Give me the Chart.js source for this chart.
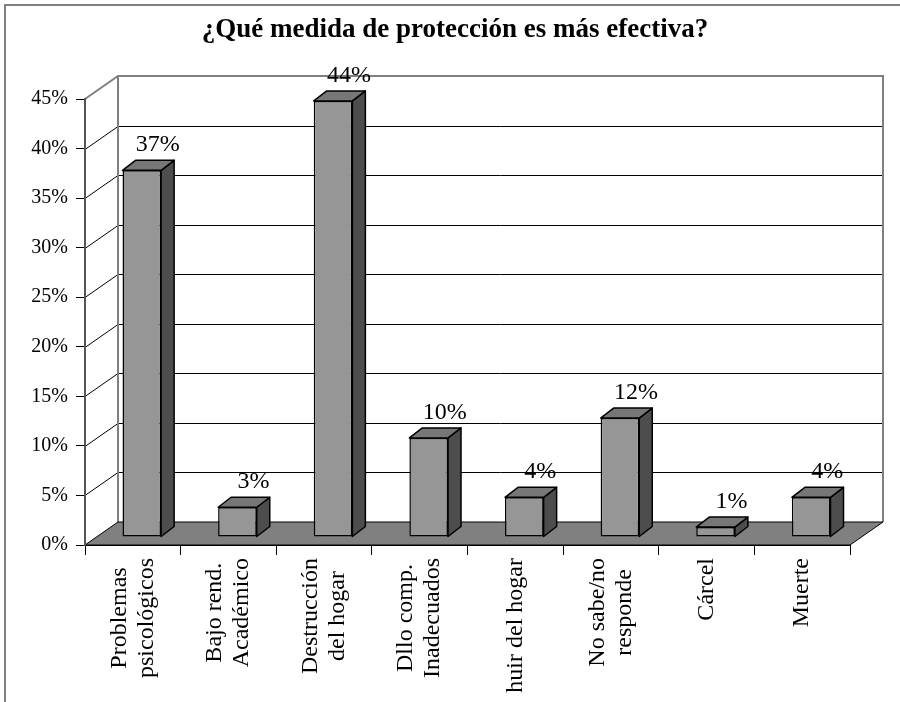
<!DOCTYPE html>
<html>
<head>
<meta charset="utf-8">
<script src="https://cdn.jsdelivr.net/npm/chart.js@4.4.1/dist/chart.umd.min.js"></script>
<style>
  html, body { margin: 0; padding: 0; background: #fff; }
  #wrap { width: 900px; height: 702px; }
</style>
</head>
<body>
<div id="wrap"><canvas id="chart" width="900" height="702"></canvas></div>
<script>
const titleText = "¿Qué medida de protección es más efectiva?";
const categories = [
  ["Problemas", "psicológicos"],
  ["Bajo rend.", "Académico"],
  ["Destrucción", "del hogar"],
  ["Dllo comp.", "Inadecuados"],
  ["huir del hogar"],
  ["No sabe/no", "responde"],
  ["Cárcel"],
  ["Muerte"]
];
const percentages = [37, 3, 44, 10, 4, 12, 1, 4];
const yMax = 45;
const yStep = 5;

// 3d look
const DEPTH = { x: 33, y: -23 };
const BAR_SHIFT = { x: 9, y: -8 };
const BAR_DEPTH = { x: 13, y: -10 };
const SERIF = "'Liberation Serif', 'Times New Roman', serif";

const box3d = {
  id: "box3d",
  beforeDraw(chart) {
    const ctx = chart.ctx;
    const a = chart.chartArea;
    const y = chart.scales.y;
    const top = y.getPixelForValue(yMax);
    const zero = y.getPixelForValue(0);
    const bx0 = a.left + DEPTH.x;
    const bx1 = a.right + DEPTH.x;
    ctx.save();

    // outer frame
    ctx.strokeStyle = "#808080";
    ctx.lineWidth = 2;
    ctx.beginPath();
    ctx.moveTo(5, 702);
    ctx.lineTo(5, 5);
    ctx.lineTo(900, 5);
    ctx.stroke();

    // gridlines: side wall + back wall
    ctx.strokeStyle = "#000";
    ctx.lineWidth = 1;
    for (let v = yStep; v < yMax; v += yStep) {
      const py = Math.round(y.getPixelForValue(v)) + 0.5;
      ctx.beginPath();
      ctx.moveTo(a.left, py);
      ctx.lineTo(bx0, py + DEPTH.y);
      ctx.lineTo(bx1, py + DEPTH.y);
      ctx.stroke();
    }

    // wall edges
    ctx.strokeStyle = "#808080";
    ctx.lineWidth = 2;
    ctx.beginPath();
    ctx.moveTo(a.left, top);
    ctx.lineTo(bx0, top + DEPTH.y);
    ctx.lineTo(bx1, top + DEPTH.y);
    ctx.lineTo(bx1, zero + DEPTH.y);
    ctx.moveTo(bx0, top + DEPTH.y);
    ctx.lineTo(bx0, zero + DEPTH.y);
    ctx.stroke();

    // floor
    ctx.fillStyle = "#808080";
    ctx.strokeStyle = "#000";
    ctx.lineWidth = 1;
    ctx.beginPath();
    ctx.moveTo(a.left, zero);
    ctx.lineTo(a.right, zero);
    ctx.lineTo(bx1, zero + DEPTH.y);
    ctx.lineTo(bx0, zero + DEPTH.y);
    ctx.closePath();
    ctx.fill();
    ctx.stroke();
    ctx.restore();
  },
  beforeDatasetsDraw(chart) {
    chart.ctx.save();
    chart.ctx.translate(BAR_SHIFT.x, BAR_SHIFT.y);
  },
  afterDatasetsDraw(chart) {
    const ctx = chart.ctx;
    const meta = chart.getDatasetMeta(0);
    ctx.lineWidth = 1.5;
    ctx.strokeStyle = "#000";
    ctx.lineJoin = "round";
    meta.data.forEach((bar) => {
      const { x, y, base, width } = bar.getProps(["x", "y", "base", "width"], true);
      const l = x - width / 2;
      const r = x + width / 2;
      const dx = BAR_DEPTH.x;
      const dy = BAR_DEPTH.y;
      ctx.fillStyle = "#4d4d4d";
      ctx.beginPath();
      ctx.moveTo(r, base);
      ctx.lineTo(r, y);
      ctx.lineTo(r + dx, y + dy);
      ctx.lineTo(r + dx, base + dy);
      ctx.closePath();
      ctx.fill();
      ctx.stroke();
      ctx.fillStyle = "#777777";
      ctx.beginPath();
      ctx.moveTo(l, y);
      ctx.lineTo(l + dx, y + dy);
      ctx.lineTo(r + dx, y + dy);
      ctx.lineTo(r, y);
      ctx.closePath();
      ctx.fill();
      ctx.stroke();
    });
    ctx.restore();

    // value labels
    ctx.save();
    ctx.fillStyle = "#000";
    ctx.font = "24px " + SERIF;
    ctx.textAlign = "center";
    ctx.textBaseline = "alphabetic";
    meta.data.forEach((bar, i) => {
      ctx.fillText(percentages[i] + "%", bar.x + BAR_SHIFT.x + 16, bar.y + BAR_SHIFT.y - 19);
    });
    ctx.restore();
  },
  afterDraw(chart) {
    // category labels, rotated, lines centered on each other
    const ctx = chart.ctx;
    const xs = chart.scales.x;
    const lh = 27;
    ctx.save();
    ctx.fillStyle = "#000";
    ctx.font = "24px " + SERIF;
    ctx.textAlign = "center";
    ctx.textBaseline = "middle";
    categories.forEach((lines, i) => {
      const px = xs.getPixelForValue(i);
      const w = Math.max(...lines.map((t) => ctx.measureText(t).width));
      const start = px - (lines.length - 1) * lh / 2;
      lines.forEach((line, j) => {
        ctx.save();
        ctx.translate(start + j * lh, chart.chartArea.bottom + 13 + w / 2);
        ctx.rotate(-Math.PI / 2);
        ctx.fillText(line, 0, 0);
        ctx.restore();
      });
    });
    ctx.restore();
  }
};

new Chart(document.getElementById("chart"), {
  type: "bar",
  data: {
    labels: categories,
    datasets: [{
      data: percentages,
      backgroundColor: "#969696",
      borderColor: "#000",
      borderWidth: 1.5,
      borderSkipped: false,
      barPercentage: 0.404,
      categoryPercentage: 1,
      clip: false
    }]
  },
  options: {
    responsive: false,
    animation: false,
    devicePixelRatio: 1,
    layout: { padding: { left: 10, right: 0, top: 0, bottom: 0 } },
    plugins: {
      legend: { display: false },
      tooltip: { enabled: false },
      title: {
        display: true,
        text: titleText,
        color: "#000",
        font: { family: SERIF, size: 27, weight: "bold", lineHeight: 1 },
        padding: { top: 17, bottom: 55 }
      }
    },
    scales: {
      x: {
        grid: { offset: true, drawOnChartArea: false, color: "#000", tickLength: 10 },
        border: { color: "#000", width: 1 },
        ticks: { display: false },
        afterFit: (s) => { s.height = 157; }
      },
      y: {
        min: 0,
        max: yMax,
        ticks: {
          stepSize: yStep,
          callback: (v) => v + "%",
          color: "#000",
          font: { family: SERIF, size: 20 },
          padding: 8
        },
        grid: { drawOnChartArea: false, color: "#000", tickLength: 9 },
        border: { color: "#555", width: 2 },
        afterFit: (s) => { s.width = 75; }
      },
      yRight: {
        position: "right",
        min: 0,
        max: yMax,
        grid: { display: false },
        border: { display: false },
        ticks: { display: false },
        afterFit: (s) => { s.width = 50; }
      }
    }
  },
  plugins: [box3d]
});
</script>
</body>
</html>
